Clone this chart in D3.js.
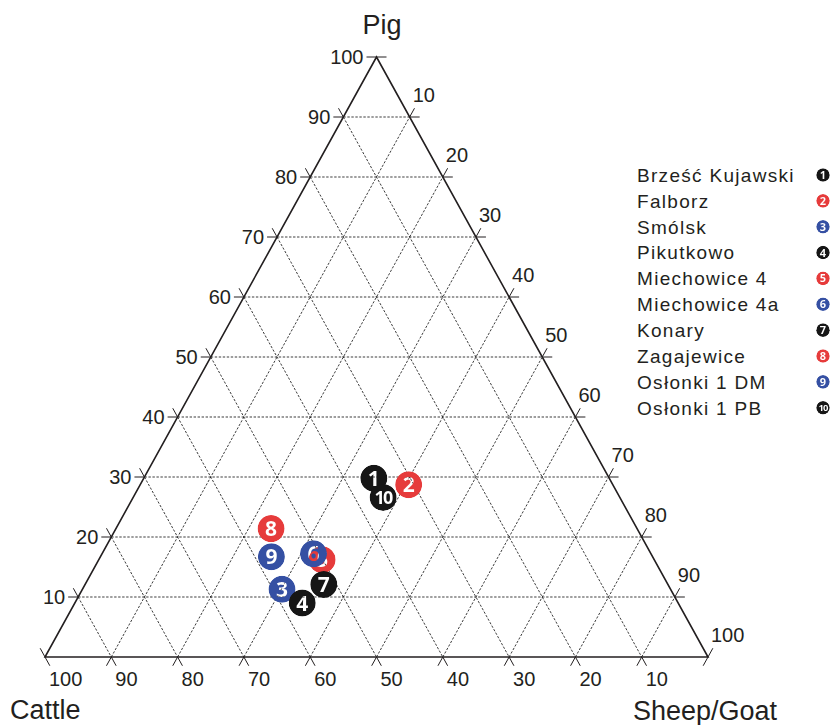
<!DOCTYPE html>
<html>
<head>
<meta charset="utf-8">
<script src="https://cdn.jsdelivr.net/npm/d3@7/dist/d3.min.js"></script>
<style>
  html, body { margin: 0; padding: 0; background: #fff; }
  svg { display: block; }
  text { font-family: "Liberation Sans", Arial, sans-serif; fill: #231f20; }
</style>
</head>
<body>
<svg id="chart" width="835" height="725"></svg>
<script>
// Site names and composition (% of Cattle, Sheep/Goat, Pig)
const sites = ["Brześć Kujawski", "Falborz", "Smólsk", "Pikutkowo", "Miechowice 4",
               "Miechowice 4a", "Konary", "Zagajewice", "Osłonki 1 DM", "Osłonki 1 PB"];
const markerLabels = ["1", "2", "3", "4", "5", "6", "7", "8", "9", "10"];
const cattle    = [35.5, 30.8, 58.6, 56.7, 50.1, 50.9, 51.9, 55.2, 57.5, 35.7];
const sheepGoat = [34.7, 40.5, 30.1, 34.3, 33.7, 31.9, 36.0, 23.4, 25.8, 37.7];
const pig       = [29.8, 28.7, 11.3,  9.0, 16.2, 17.2, 12.1, 21.4, 16.7, 26.6];

// Axis tick values
const tickValues = [10, 20, 30, 40, 50, 60, 70, 80, 90, 100];

// Marker colours, one per site
const BLACK = "#161616", RED = "#e63b3b", BLUE = "#3550a3";
const markerColors = [BLACK, RED, BLUE, BLACK, RED, BLUE, BLACK, RED, BLUE, BLACK];

const svg = d3.select("#chart");

// Ternary projection: horizontal position from sheep + pig/2, vertical from pig
const xs = d3.scaleLinear().domain([0, 100]).range([45, 708]);
const ys = d3.scaleLinear().domain([0, 100]).range([657, 57]);
function proj(c, s, p) { return [xs(s + p / 2), ys(p)]; }

const TICK = 10;

const gGrid = svg.append("g");
const gTicks = svg.append("g");
const gLabels = svg.append("g").attr("font-size", 20);

function drawSeg(g, a, b, dashed) {
  g.append("line")
    .attr("x1", a[0]).attr("y1", a[1]).attr("x2", b[0]).attr("y2", b[1])
    .attr("stroke", dashed ? "#1a1a1a" : "#231f20")
    .attr("stroke-width", dashed ? 0.85 : 1)
    .attr("stroke-dasharray", dashed ? "2.4,1.6" : null);
}
function unit(dx, dy) { const l = Math.hypot(dx, dy); return [dx / l, dy / l]; }
// draw tick extending outward from point pt along direction d
function tick(pt, d) {
  drawSeg(gTicks, pt, [pt[0] + d[0] * TICK, pt[1] + d[1] * TICK], false);
}

// direction vectors of each grid family
const dirPig = unit(1, 0);                                              // constant pig: horizontal
const dirCattle = unit(xs(100) - xs(50), ys(0) - ys(100));              // parallel to right edge
const dirSheep = unit(xs(50) - xs(0), ys(100) - ys(0));                 // parallel to left edge

tickValues.forEach(v => {
  // constant pig = v : left edge -> right edge
  let A = proj(100 - v, 0, v), B = proj(0, 100 - v, v);
  if (v < 100) drawSeg(gGrid, A, B, true);
  tick(A, [-dirPig[0], -dirPig[1]]);
  tick(B, dirPig);
  gLabels.append("text").attr("x", A[0] - 13).attr("y", A[1] + 7)
    .attr("text-anchor", "end").text(v);

  // constant cattle = v : left edge -> bottom edge
  A = proj(v, 0, 100 - v); B = proj(v, 100 - v, 0);
  if (v < 100) drawSeg(gGrid, A, B, true);
  tick(A, [-dirCattle[0], -dirCattle[1]]);
  tick(B, dirCattle);
  gLabels.append("text").attr("x", B[0] + 4).attr("y", B[1] + 29)
    .attr("text-anchor", "start").text(v);

  // constant sheep/goat = v : bottom edge -> right edge
  A = proj(100 - v, v, 0); B = proj(0, v, 100 - v);
  if (v < 100) drawSeg(gGrid, A, B, true);
  tick(A, [-dirSheep[0], -dirSheep[1]]);
  tick(B, dirSheep);
  gLabels.append("text").attr("x", B[0] + 3).attr("y", B[1] - 15)
    .attr("text-anchor", "start").text(v);
});

// triangle outline
const tri = [proj(100, 0, 0), proj(0, 100, 0), proj(0, 0, 100)];
svg.append("path")
  .attr("d", d3.line()(tri) + "Z")
  .attr("fill", "none").attr("stroke", "#231f20").attr("stroke-width", 1.6)
  .attr("stroke-linejoin", "miter");

// axis titles
svg.append("text").attr("x", 382).attr("y", 34).attr("text-anchor", "middle")
  .attr("font-size", 27).text("Pig");
svg.append("text").attr("x", 10).attr("y", 719).attr("font-size", 27).text("Cattle");
svg.append("text").attr("x", 633).attr("y", 720).attr("font-size", 27).text("Sheep/Goat");

// circled-number markers with the number knocked out of the disc
const defs = svg.append("defs");
function marker(g, id, cx, cy, r, label, color, fs) {
  const m = defs.append("mask").attr("id", id)
    .attr("maskUnits", "userSpaceOnUse")
    .attr("x", cx - r - 2).attr("y", cy - r - 2).attr("width", 2 * r + 4).attr("height", 2 * r + 4);
  m.append("circle").attr("cx", cx).attr("cy", cy).attr("r", r).attr("fill", "#fff");
  m.append("text").attr("x", cx).attr("y", cy).attr("dy", "0.36em")
    .attr("text-anchor", "middle")
    .style("font-family", "'Open Sans', 'DejaVu Sans', sans-serif")
    .style("font-weight", 700)
    .style("font-size", (label.length > 1 ? fs * 0.86 : fs) + "px")
    .style("letter-spacing", label.length > 1 ? (-fs * 0.08) + "px" : "0px")
    .style("fill", "#000")
    .text(label);
  g.append("circle").attr("cx", cx).attr("cy", cy).attr("r", r)
    .attr("fill", color).attr("mask", `url(#${id})`);
}

const gPts = svg.append("g");
sites.forEach((s, i) => {
  const [px, py] = proj(cattle[i], sheepGoat[i], pig[i]);
  marker(gPts, "pm" + i, px, py, 13.5, markerLabels[i], markerColors[i], 21);
});

// legend
const gLeg = svg.append("g");
const legY = d3.scalePoint().domain(d3.range(sites.length)).range([175, 407.7]);
sites.forEach((s, i) => {
  const y0 = legY(i);
  gLeg.append("text").attr("x", 637).attr("y", y0 + 6.8)
    .attr("font-size", 19).attr("letter-spacing", 1.3).text(s);
  marker(gLeg, "lm" + i, 823, y0, 6.8, markerLabels[i], markerColors[i], 11);
});
</script>
</body>
</html>
